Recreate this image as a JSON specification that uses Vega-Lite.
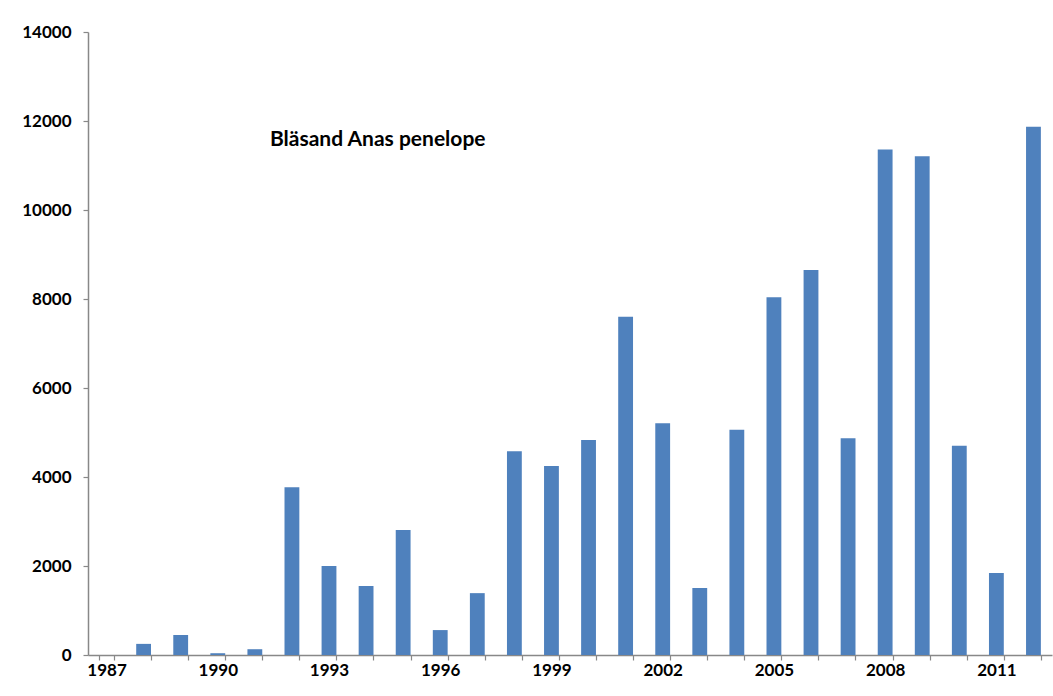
{
  "$schema": "https://vega.github.io/schema/vega-lite/v6.json",
  "width": 964,
  "height": 623,
  "autosize": {"type": "none"},
  "padding": {"left": 88, "top": 32, "right": 1, "bottom": 41},
  "background": "white",
  "config": {
    "view": {"stroke": null},
    "font": "Lato"
  },
  "data": {
    "values": [
      {"year": "1987", "count": 0},
      {"year": "1988", "count": 250},
      {"year": "1989", "count": 450},
      {"year": "1990", "count": 40},
      {"year": "1991", "count": 130},
      {"year": "1992", "count": 3770},
      {"year": "1993", "count": 2000},
      {"year": "1994", "count": 1550},
      {"year": "1995", "count": 2810},
      {"year": "1996", "count": 560},
      {"year": "1997", "count": 1390},
      {"year": "1998", "count": 4580},
      {"year": "1999", "count": 4250},
      {"year": "2000", "count": 4830},
      {"year": "2001", "count": 7600},
      {"year": "2002", "count": 5210},
      {"year": "2003", "count": 1505},
      {"year": "2004", "count": 5060},
      {"year": "2005", "count": 8040},
      {"year": "2006", "count": 8650},
      {"year": "2007", "count": 4870},
      {"year": "2008", "count": 11360},
      {"year": "2009", "count": 11210},
      {"year": "2010", "count": 4700},
      {"year": "2011", "count": 1840},
      {"year": "2012", "count": 11870}
    ]
  },
  "layer": [
    {
      "mark": {"type": "bar", "color": "#4F81BD", "strokeWidth": 0},
      "encoding": {
        "x": {
          "field": "year",
          "type": "ordinal",
          "scale": {"paddingInner": 0.6, "paddingOuter": 0.3},
          "axis": {
            "title": null,
            "tickBand": "extent",
            "labelAngle": 0,
            "labelExpr": "(toNumber(datum.value) - 1987) % 3 == 0 ? datum.label : ''",
            "labelFont": "Lato",
            "labelFontWeight": "bold",
            "labelFontSize": 17,
            "labelColor": "black",
            "labelPadding": 2,
            "domainColor": "#888888",
            "domainWidth": 1.5,
            "tickColor": "#888888",
            "tickSize": 5,
            "tickWidth": 1.2
          }
        },
        "y": {
          "field": "count",
          "type": "quantitative",
          "scale": {"domain": [0, 14000], "nice": false},
          "axis": {
            "title": null,
            "format": "d",
            "values": [0, 2000, 4000, 6000, 8000, 10000, 12000, 14000],
            "grid": false,
            "labelFont": "Lato",
            "labelFontWeight": "bold",
            "labelFontSize": 17,
            "labelColor": "black",
            "labelPadding": 12,
            "domainColor": "#888888",
            "domainWidth": 1.5,
            "tickColor": "#888888",
            "tickSize": 5,
            "tickWidth": 1.2
          }
        }
      }
    },
    {
      "data": {"values": [{"label": "Bläsand Anas penelope", "year": "1992", "count": 11570}]},
      "mark": {"type": "text", "align": "left", "baseline": "middle", "dx": -22, "font": "Lato", "fontWeight": "bold", "fontSize": 21, "color": "black"},
      "encoding": {
        "x": {"field": "year", "type": "ordinal"},
        "y": {"field": "count", "type": "quantitative"},
        "text": {"field": "label"}
      }
    }
  ]
}
